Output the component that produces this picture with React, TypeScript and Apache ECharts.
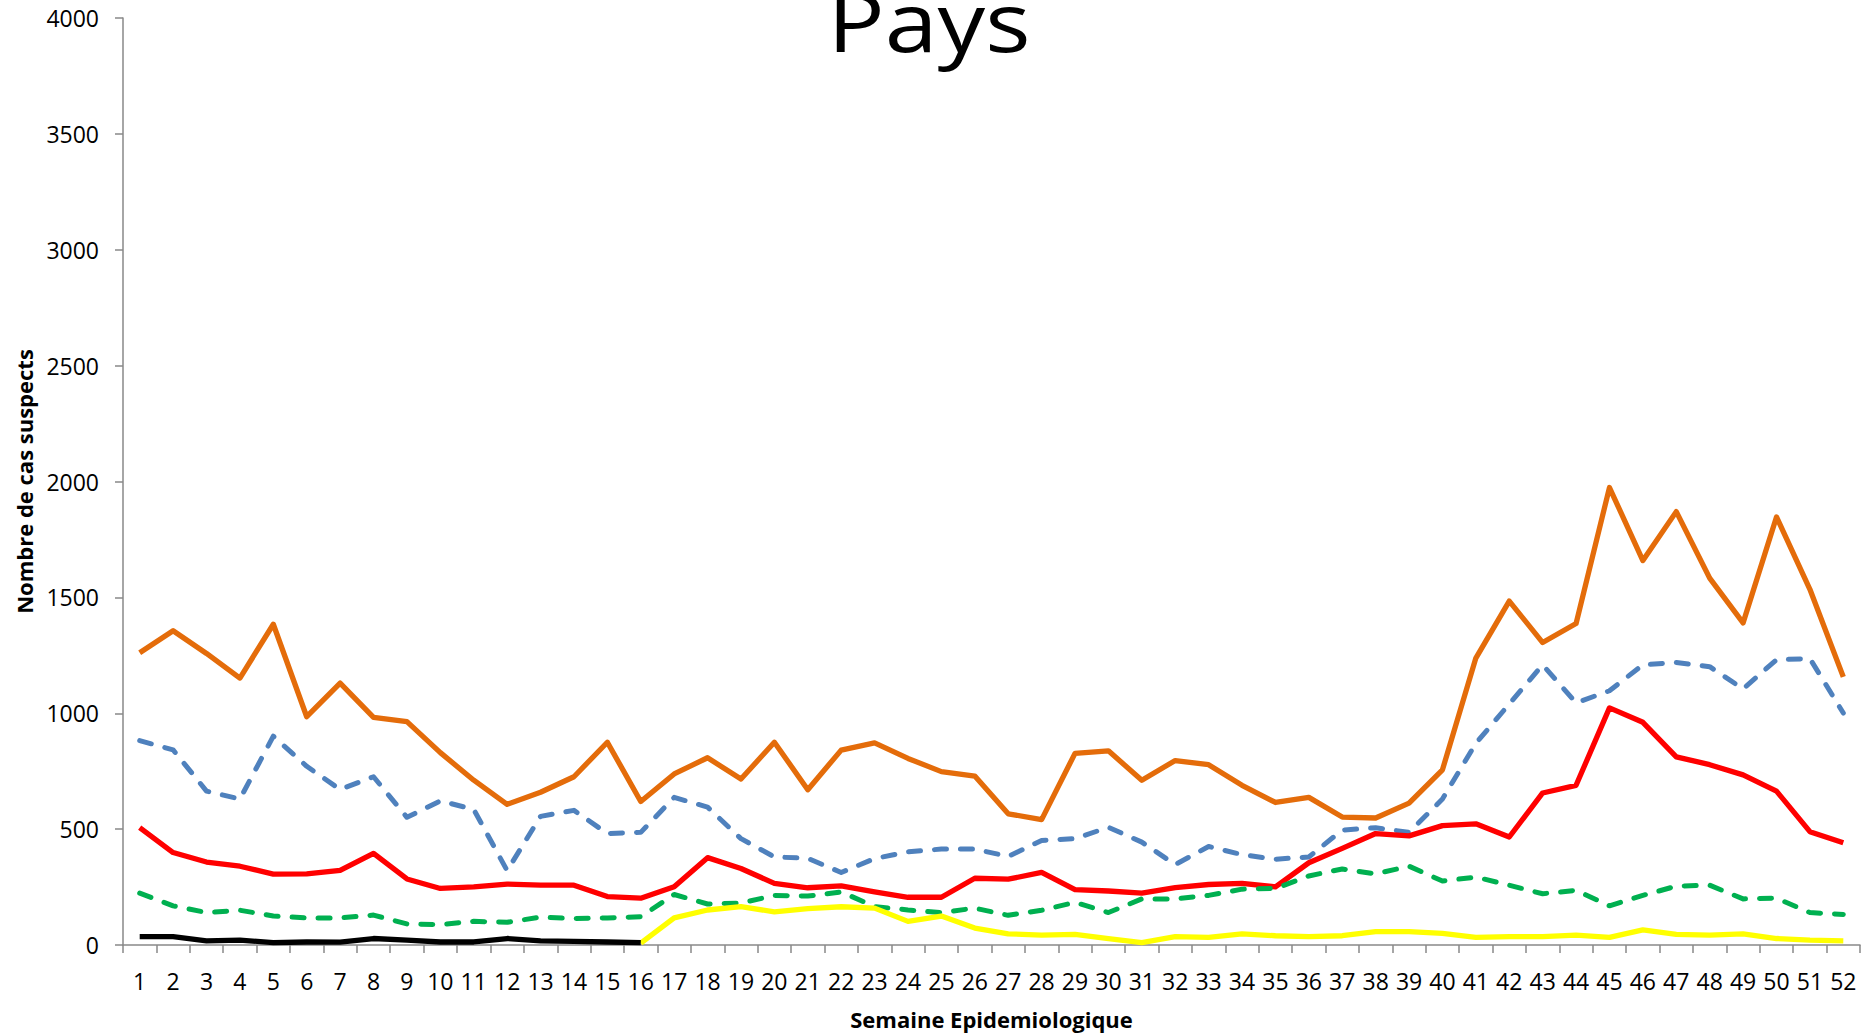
import React, { useEffect, useRef } from "react";
import * as echarts from "echarts";

const weeks = [
  "1", "2", "3", "4", "5", "6", "7", "8", "9", "10", "11", "12", "13",
  "14", "15", "16", "17", "18", "19", "20", "21", "22", "23", "24", "25", "26",
  "27", "28", "29", "30", "31", "32", "33", "34", "35", "36", "37", "38", "39",
  "40", "41", "42", "43", "44", "45", "46", "47", "48", "49", "50", "51", "52",
];

const yTicks = { min: 0, max: 4000, interval: 500 };

const orangeValues = [
  1261, 1356, 1258, 1152, 1384, 985, 1130, 982, 964, 830, 711, 607, 659,
  726, 875, 619, 738, 808, 716, 875, 670, 841, 872, 805, 748, 729,
  566, 541, 827, 838, 711, 796, 778, 689, 615, 637, 552, 548, 612,
  756, 1238, 1484, 1305, 1387, 1974, 1659, 1870, 1583, 1390, 1847, 1535, 1157,
];

const blueValues = [
  882, 842, 664, 630, 901, 771, 671, 726, 551, 622, 585, 321, 555,
  581, 481, 486, 637, 595, 459, 380, 374, 313, 373, 402, 414, 414,
  382, 451, 459, 508, 444, 347, 425, 390, 370, 380, 496, 506, 486,
  630, 870, 1040, 1209, 1045, 1097, 1209, 1219, 1201, 1105, 1231, 1236, 1001,
];

const redValues = [
  506, 399, 358, 340, 306, 307, 322, 395, 285, 244, 251, 263, 258,
  258, 209, 202, 251, 377, 330, 266, 247, 255, 229, 206, 206, 288,
  284, 313, 239, 233, 224, 248, 261, 266, 251, 355, 417, 481, 471,
  515, 523, 466, 656, 689, 1023, 961, 812, 778, 734, 664, 489, 441,
];

const greenValues = [
  224, 169, 140, 150, 125, 117, 117, 129, 91, 88, 102, 98, 120,
  114, 117, 122, 218, 177, 181, 214, 211, 229, 166, 151, 140, 159,
  128, 150, 184, 140, 199, 199, 214, 241, 244, 298, 328, 307, 340,
  276, 293, 258, 221, 236, 169, 214, 254, 258, 199, 202, 140, 132,
];

const yellowValues = [
  null, null, null, null, null, null, null, null, null, null, null, null, null,
  null, null, 8, 117, 151, 166, 143, 157, 165, 159, 102, 125, 73,
  48, 43, 46, 28, 10, 36, 33, 48, 40, 36, 40, 58, 58,
  50, 33, 36, 36, 43, 33, 65, 46, 43, 48, 28, 21, 18,
];

const blackValues = [
  36, 36, 18, 21, 10, 13, 12, 28, 21, 13, 13, 28, 18,
  16, 13, 10, null, null, null, null, null, null, null, null, null, null,
  null, null, null, null, null, null, null, null, null, null, null, null, null,
  null, null, null, null, null, null, null, null, null, null, null, null, null,
];

const titleText = "Pays";
const xAxisName = "Semaine Epidemiologique";
const yAxisName = "Nombre de cas suspects";

const FONT = "'Open Sans', 'Noto Sans', sans-serif";
const AXIS_COLOR = "#898989";
const DASH = [12, 14];

function makeSeries(name: string, data: (number | null)[], color: string, dashed: boolean) {
  return {
    name,
    type: "line",
    data,
    symbol: "none",
    connectNulls: false,
    lineStyle: {
      color,
      width: dashed ? 5 : 5.3,
      type: dashed ? DASH : "solid",
      cap: dashed ? "round" : "butt",
      join: "round",
    },
    emphasis: { disabled: true },
  };
}

export default function App() {
  const ref = useRef<HTMLDivElement>(null);

  useEffect(() => {
    if (!ref.current) return;
    const chart = echarts.init(ref.current, undefined, { renderer: "svg" });
    chart.setOption({
      animation: false,
      backgroundColor: "#ffffff",
      textStyle: { fontFamily: FONT },
      grid: { left: 123, right: 2, top: 18, bottom: 89, containLabel: false },
      graphic: [
        {
          type: "text",
          x: 929,
          y: 20,
          scaleX: 1.16,
          scaleY: 1,
          style: {
            text: titleText,
            fontFamily: FONT,
            fontSize: 82,
            fill: "#000000",
            textAlign: "center",
            textVerticalAlign: "middle",
          },
        },
      ],
      xAxis: {
        type: "category",
        data: weeks,
        boundaryGap: true,
        name: xAxisName,
        nameLocation: "middle",
        nameGap: 63,
        nameTextStyle: { fontFamily: FONT, fontSize: 22, fontWeight: "bold", color: "#000" },
        axisLine: { show: true, lineStyle: { color: AXIS_COLOR, width: 1.5 } },
        axisTick: { show: true, interval: 0, length: 8, alignWithLabel: false, lineStyle: { color: AXIS_COLOR, width: 1.5 } },
        axisLabel: { interval: 0, fontFamily: FONT, fontSize: 23, color: "#000", margin: 24 },
        splitLine: { show: false },
      },
      yAxis: {
        type: "value",
        min: yTicks.min,
        max: yTicks.max,
        interval: yTicks.interval,
        name: yAxisName,
        nameLocation: "middle",
        nameGap: 88,
        nameRotate: 90,
        nameTextStyle: { fontFamily: FONT, fontSize: 22, fontWeight: "bold", color: "#000" },
        axisLine: { show: true, lineStyle: { color: AXIS_COLOR, width: 1.5 } },
        axisTick: { show: true, length: 8, lineStyle: { color: AXIS_COLOR, width: 1.5 } },
        axisLabel: {
          fontFamily: FONT,
          fontSize: 23,
          color: "#000",
          margin: 24,
          formatter: (v: number) => String(v),
        },
        splitLine: { show: false },
      },
      series: [
        makeSeries("Série 1", orangeValues, "#E46C0A", false),
        makeSeries("Série 2", blueValues, "#4F81BD", true),
        makeSeries("Série 3", redValues, "#FF0000", false),
        makeSeries("Série 4", greenValues, "#00B050", true),
        makeSeries("Série 5", yellowValues, "#FFFF00", false),
        makeSeries("Série 6", blackValues, "#000000", false),
      ],
    });
    return () => chart.dispose();
  }, []);

  return (
    <div
      ref={ref}
      style={{ position: "fixed", left: 0, top: 0, width: 1862, height: 1035, background: "#fff" }}
    />
  );
}
